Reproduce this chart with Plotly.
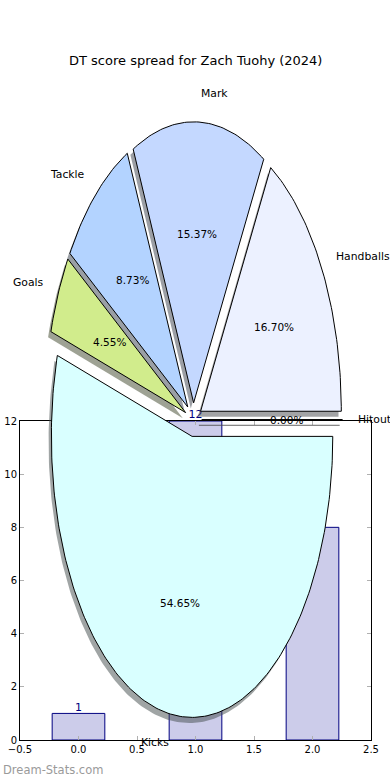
import numpy as np
import plotly.graph_objects as go

# ---------------- data ----------------
title_text = "DT score spread for Zach Tuohy (2024)"
slice_labels = ["Handballs", "Mark", "Tackle", "Goals", "Kicks", "Hitout"]
slice_pcts = [16.70, 15.37, 8.73, 4.55, 54.65, 0.00]
slice_colors = ["#ecf1ff", "#c4d8ff", "#b3d3ff", "#d1ec8c", "#d9ffff", "#f0f0f0"]

bar_x = [0, 1, 2]
bar_values = [1, 12, 8]
x_ticks = [-0.5, 0.0, 0.5, 1.0, 1.5, 2.0, 2.5]
y_ticks = [0, 2, 4, 6, 8, 10, 12]
watermark = "Dream-Stats.com"

# ---------------- geometry / style ----------------
W, H = 390, 780
FONT = "DejaVu Sans"
# bar axes area in pixels
bx0, bx1, by_top, by_bot = 20, 371, 421, 740
# pie (stretched) in pixels
cx, cy, rx, ry = 193.3, 419.7, 140.7, 281.0
explode = 0.06
shadow_off = 0.02
label_dist = 1.1
pct_dist = 0.6

fig = go.Figure()

# bars
fig.add_trace(go.Bar(
    x=bar_x, y=bar_values, width=0.45,
    marker=dict(color="#ccccea", line=dict(color="#000080", width=1)),
    xaxis="x", yaxis="y", hoverinfo="skip",
))
fig.add_trace(go.Scatter(
    x=bar_x, y=bar_values, mode="text", text=[str(v) for v in bar_values],
    textposition="top center", textfont=dict(family=FONT, size=11, color="#000080"),
    cliponaxis=False, xaxis="x", yaxis="y", hoverinfo="skip",
))

# pie wedges
def hex_to_rgb(h):
    h = h.lstrip("#")
    return [int(h[i:i + 2], 16) for i in (0, 2, 4)]

wedges = []
start = 0.0
for lab, p, col in zip(slice_labels, slice_pcts, slice_colors):
    th1 = start
    th2 = start + 360.0 * p / 100.0
    start = th2
    mid = np.radians((th1 + th2) / 2.0)
    ox, oy = explode * np.cos(mid), explode * np.sin(mid)
    n = max(2, int(abs(th2 - th1)) + 2)
    t = np.radians(np.linspace(th1, th2, n))
    xs = np.concatenate([[ox], ox + np.cos(t), [ox]])
    ys = np.concatenate([[oy], oy + np.sin(t), [oy]])
    wedges.append((lab, p, col, mid, ox, oy, xs, ys))

# shadows first (below all wedges)
for lab, p, col, mid, ox, oy, xs, ys in wedges:
    r, g, b = hex_to_rgb(col)
    scol = f"rgba({int(r*0.3)},{int(g*0.3)},{int(b*0.3)},0.5)"
    fig.add_trace(go.Scatter(
        x=xs - shadow_off, y=ys - shadow_off, mode="lines", fill="toself",
        fillcolor=scol, line=dict(color=scol, width=1 if p == 0 else 0),
        xaxis="x2", yaxis="y2", hoverinfo="skip",
    ))
for lab, p, col, mid, ox, oy, xs, ys in wedges:
    fig.add_trace(go.Scatter(
        x=xs, y=ys, mode="lines", fill="toself", fillcolor=col,
        line=dict(color="black", width=1),
        xaxis="x2", yaxis="y2", hoverinfo="skip",
    ))

annotations = []
for lab, p, col, mid, ox, oy, xs, ys in wedges:
    lx = ox + label_dist * np.cos(mid)
    ly = oy + label_dist * np.sin(mid)
    annotations.append(dict(
        x=lx, y=ly, xref="x2", yref="y2", text=lab, showarrow=False,
        xanchor="left" if lx > 0 else "right", yanchor="middle", borderpad=0,
        font=dict(family=FONT, size=10.8, color="black"),
    ))
    px = ox + pct_dist * np.cos(mid)
    py = oy + pct_dist * np.sin(mid)
    annotations.append(dict(
        x=px, y=py, xref="x2", yref="y2", text=f"{p:.2f}%", showarrow=False,
        xanchor="center", yanchor="middle", borderpad=0,
        font=dict(family=FONT, size=10.5, color="black"),
    ))

annotations.append(dict(
    x=0.5, y=1 - 61 / H, xref="paper", yref="paper", text=title_text,
    showarrow=False, xanchor="center", yanchor="middle",
    font=dict(family=FONT, size=13, color="black"),
))
annotations.append(dict(
    x=1 / W, y=1 - 770 / H, xref="paper", yref="paper", text=watermark,
    showarrow=False, xanchor="left", yanchor="middle",
    font=dict(family=FONT, size=11.5, color="#9a9a9a"),
))

axis_common = dict(
    showline=True, linecolor="black", linewidth=1, mirror="ticks",
    ticks="inside", ticklen=4, tickcolor="#b0b0b0", showgrid=False,
    zeroline=False, tickfont=dict(family=FONT, size=10, color="black"),
    fixedrange=True, automargin=False,
)

fig.update_layout(
    width=W, height=H, margin=dict(l=0, r=0, t=0, b=0, pad=0),
    paper_bgcolor="white", plot_bgcolor="rgba(0,0,0,0)",
    showlegend=False,
    xaxis=dict(domain=[bx0 / W, bx1 / W], range=[-0.5, 2.5], anchor="y",
               tickvals=x_ticks, tickformat=".1f", **axis_common),
    yaxis=dict(domain=[1 - by_bot / H, 1 - by_top / H], range=[0, 12], anchor="x",
               tickvals=y_ticks, **axis_common),
    xaxis2=dict(domain=[0, 1], range=[-cx / rx, (W - cx) / rx], anchor="y2",
                visible=False, fixedrange=True, automargin=False),
    yaxis2=dict(domain=[0, 1], range=[(cy - H) / ry, cy / ry], anchor="x2",
                visible=False, fixedrange=True, automargin=False),
    annotations=annotations,
)

fig.write_html(
    "out.html",
    config={"displayModeBar": False, "staticPlot": True},
    post_script="document.body.style.margin='0px';document.body.style.overflow='hidden';",
)
